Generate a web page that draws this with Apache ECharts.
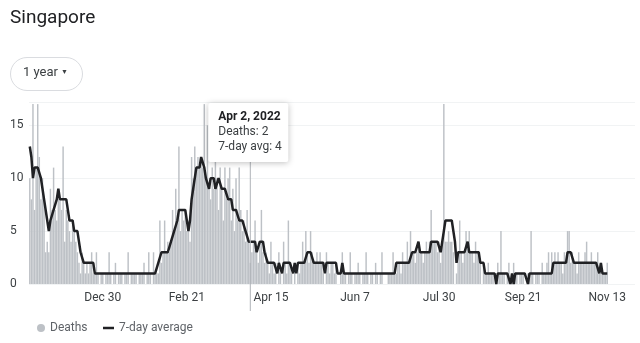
<!DOCTYPE html>
<html>
<head>
<meta charset="utf-8">
<script src="https://cdn.jsdelivr.net/npm/echarts@6/dist/echarts.min.js"></script>
<style>
html,body{margin:0;padding:0;background:#fff;}
#chart{width:640px;height:343px;}
</style>
</head>
<body>
<div id="chart"></div>
<script>
// ---- data ----
var startDate = '2021-11-14';
var axisDays = 382; // axis runs a little past the last data day
var tickDates = ['2021-12-30','2022-02-21','2022-04-15','2022-06-07','2022-07-30','2022-09-21','2022-11-13'];
var tickLabels = ['Dec 30','Feb 21','Apr 15','Jun 7','Jul 30','Sep 21','Nov 13'];
var yTicks = [0, 5, 10, 15];

var deaths = [
10,8,17,7,11,17,12,8,10,8, 3,4,3,9,7,11,7,6,8,8, 7,13,4,7,6,5,4,6,5,4, 3,2,1,3,2,1,2,1,2,3, 1,
1,3,1,0,1,1,0,1,1,3, 1,0,1,2,0,1,1,1,0,1, 1,3,0,1,1,1,1,0,1,1, 1,2,0,1,3,1,0,3,1,1,
1,6,2,3,6,3,4,3,4,7, 5,9,6,13,5,7,6,7,5,6, 4,12,10,13,11,12,11,12,11,17,
10,15,9,8,11,9,13,10,7,11, 9,6,11,8,10,11,6,9,5,10, 6,11,7,5,6,4,7,4,2,3, 4,6,3,2,4,7,3,2,3,2, 1,4,2,1,2,0,3,1,0,4, 2,1,6,2,
1,0,2,0,2,1,2,4,2,5, 3,2,5,3,2,2,3,2,3,2, 1,0,3,2,1,2,2,1,2,0, 0,1,3,1,1,0,1,3,1,0, 1,1,2,1,0,1,1,3,1,0, 1,1,0,2,1,0,1,3,0,0, 0,1,1,1,3,1,
1,2,2,1,3,2,2,4,2,5, 3,3,2,3,4,3,3,2,3,4, 3,4,7,4,4,4,3,4,2,4, 17,4,4,5,4,4,3,0,1,3, 6,3,2,3,5,4,5,3,3,2, 4,3,3,2,0,2,1,1,2,1,
1,1,0,0,2,1,5,1,1,0, 1,2,0,0,2,1,1,0,1,1, 1,0,0,1,1,5,1,0,1,1, 1,0,2,1,1,2,3,1,3,2, 3,2,3,2,2,1,3,2,5,5, 2,3,2,2,1,3,2,2,2,3, 4,2,2,3,2,2,2,3,1,2, 1,1,1,2
];

var avg7 = [
13,12,10,11,11,11,11,10,9,8,
8,6,5,6,6,7,7,8,9,8,
8,8,8,8,7,6,6,6,5,5,
5,4,3,3,2,2,2,2,2,2,
2,1,1,1,1,1,1,1,1,1,
1,1,1,1,1,1,1,1,1,1,
1,1,1,1,1,1,1,1,1,1,
1,1,1,1,1,1,1,1,1,1,
1,2,2,3,3,3,3,3,3,4,
4,5,5,6,7,7,7,7,7,7,
5,6,8,9,10,11,11,11,12,12,
11,10,10,9,10,10,10,9,9,10,
10,9,9,9,9,8,8,8,7,7,
7,7,6,6,6,6,5,5,4,4,
4,4,4,3,3,4,4,4,3,3,
2,2,2,2,2,2,1,2,2,1,
2,2,2,2,2,2,1,2,1,2,
2,2,2,2,2,3,3,3,3,2,
2,2,2,2,2,2,1,2,2,2,
2,2,2,2,1,1,1,2,1,1,
1,1,1,1,1,1,1,1,1,1,
1,1,1,1,1,1,1,1,1,1,
1,1,1,1,1,1,1,1,1,1,
1,2,2,2,2,2,2,2,2,2,
2,3,3,3,3,4,3,3,3,3,
3,3,3,4,4,4,4,4,4,3,
4,5,6,6,6,6,6,6,4,2,
3,3,3,3,3,3,4,3,3,3,
3,3,3,3,2,2,2,1,1,1,
1,1,1,1,0,1,1,1,1,1,
1,1,1,0,1,0,1,1,1,1,
1,1,1,1,0,1,1,1,1,1,
1,1,1,1,1,1,1,1,1,1,
2,2,2,2,2,2,2,2,2,3,
3,3,3,2,2,2,2,2,2,2,
2,2,2,2,2,2,2,2,2,1,
2,1,1,1,1
];

var hoverDate = '2022-04-02';
var hoverTitle = 'Apr 2, 2022';

// ---- categories (consecutive days) ----
var days = [];
(function(){
  var t = Date.UTC(2021, 10, 14);
  for (var i = 0; i < axisDays; i++) {
    var d = new Date(t + i * 86400000);
    var m = d.getUTCMonth() + 1, dd = d.getUTCDate();
    days.push(d.getUTCFullYear() + '-' + (m < 10 ? '0' : '') + m + '-' + (dd < 10 ? '0' : '') + dd);
  }
})();

var FONT = 'Roboto, "Noto Sans", sans-serif';
var chart = echarts.init(document.getElementById('chart'), null, {renderer: 'canvas'});

var option = {
  animation: false,
  backgroundColor: '#ffffff',
  grid: {left: 29, right: 5, top: 102, bottom: 59, containLabel: false},
  xAxis: {
    type: 'category',
    data: days,
    boundaryGap: true,
    axisLine: {show: false},
    axisTick: {show: false},
    splitLine: {show: false},
    axisLabel: {
      margin: 8,
      color: '#3c4043',
      fontFamily: FONT,
      fontSize: 12,
      interval: function (i, v) { return tickDates.indexOf(v) >= 0; },
      formatter: function (v) { var k = tickDates.indexOf(v); return k >= 0 ? tickLabels[k] : ''; }
    }
  },
  yAxis: {
    type: 'value',
    min: 0,
    max: 17.2,
    interval: 5,
    axisLine: {show: false},
    axisTick: {show: false},
    splitLine: {show: true, lineStyle: {color: '#f1f3f4', width: 1}},
    axisLabel: {
      showMaxLabel: false,
      align: 'left',
      margin: 19,
      color: '#3c4043',
      fontFamily: FONT,
      fontSize: 12,
      formatter: function (v) { return yTicks.indexOf(v) >= 0 ? String(v) : ''; }
    }
  },
  legend: [
    {
      left: 32, top: 317,
      itemWidth: 8, itemHeight: 8, itemGap: 10,
      data: [{name: 'Deaths', icon: 'circle'}],
      textStyle: {color: '#5f6368', fontFamily: FONT, fontSize: 12},
      selectedMode: false
    },
    {
      left: 98, top: 317,
      itemWidth: 11, itemHeight: 2.5, itemGap: 10,
      data: [{name: '7-day average', icon: 'rect'}],
      textStyle: {color: '#5f6368', fontFamily: FONT, fontSize: 12},
      selectedMode: false
    }
  ],
  series: [
    {
      name: 'Deaths',
      type: 'bar',
      data: deaths,
      barCategoryGap: '8%',
      itemStyle: {color: '#bdc1c6'},
      silent: true
    },
    {
      name: '7-day average',
      type: 'line',
      data: avg7,
      symbol: 'none',
      lineStyle: {color: '#202124', width: 2.5},
      itemStyle: {color: '#202124'},
      z: 5,
      silent: true
    }
  ],
  graphic: [
    {type: 'text', left: 10, top: 9, style: {text: 'Singapore', fill: '#202124', font: '400 19px ' + FONT}},
    {type: 'rect', left: 10, top: 57, shape: {width: 72, height: 33, r: 16.5}, style: {fill: '#fff', stroke: '#dadce0', lineWidth: 1}},
    {type: 'text', left: 23, top: 66, style: {text: '1 year', fill: '#3c4043', font: '13px ' + FONT}},
    {type: 'text', left: 61, top: 69, style: {text: '\u25BC', fill: '#3c4043', font: '7px ' + FONT}}
  ]
};
chart.setOption(option);

// hover marker + tooltip box, positioned through the axis scales
var hi = days.indexOf(hoverDate);
var hx = chart.convertToPixel({xAxisIndex: 0}, hoverDate);
var y0 = chart.convertToPixel({yAxisIndex: 0}, 0);
var boxTop = 103, boxH = 59, boxW = 80;
var boxLeft = hx - 42;
chart.setOption({
  graphic: option.graphic.concat([
    {type: 'line', shape: {x1: hx, y1: boxTop + boxH, x2: hx, y2: y0 + 27}, style: {stroke: '#b0b3b8', lineWidth: 1}, z: 20},
    {type: 'rect', shape: {x: boxLeft, y: boxTop, width: boxW, height: boxH, r: 2},
      style: {fill: '#ffffff', shadowBlur: 6, shadowColor: 'rgba(0,0,0,0.25)', shadowOffsetY: 1}, z: 30},
    {type: 'text', x: boxLeft + 10, y: boxTop + 8, style: {text: hoverTitle, fill: '#202124', font: 'bold 12px ' + FONT}, z: 31},
    {type: 'text', x: boxLeft + 10, y: boxTop + 23, style: {text: 'Deaths: ' + deaths[hi], fill: '#3c4043', font: '12px ' + FONT}, z: 31},
    {type: 'text', x: boxLeft + 10, y: boxTop + 38, style: {text: '7-day avg: ' + avg7[hi], fill: '#3c4043', font: '12px ' + FONT}, z: 31}
  ])
});
</script>
</body>
</html>
